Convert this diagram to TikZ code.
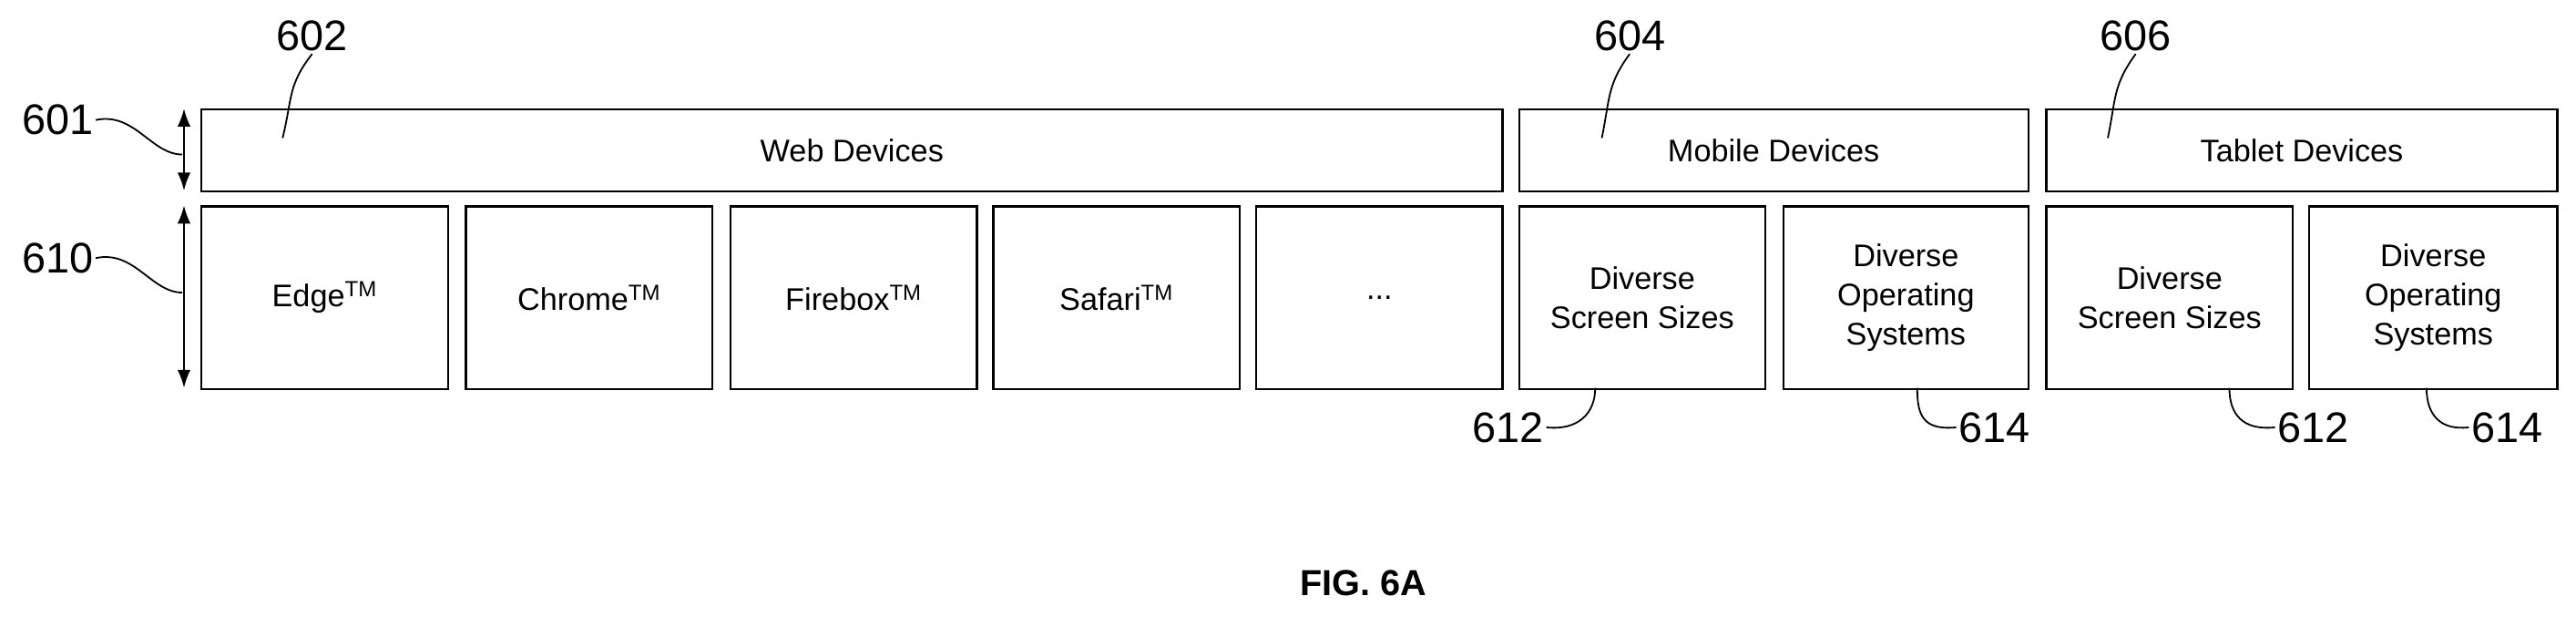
\documentclass[tikz,border=0pt]{standalone}
\usepackage{fontspec}
\setmainfont{Liberation Sans}
\usetikzlibrary{positioning,arrows.meta}

\tikzset{every picture/.style={line width=1.2pt}}
\tikzset{
  box/.style={draw, anchor=north west, align=center, inner sep=0pt,
              font=\fontsize{19}{24}\selectfont},
  ref/.style={inner sep=1pt, font=\fontsize{26}{28}\selectfont},
  lead/.style={line width=1pt},
  span/.style={<->, >={Latex[length=11pt,width=8pt]}, line width=1.2pt}
}

\begin{document}
\begin{tikzpicture}[x=1pt, y=1pt, yscale=-1, xscale=1]

    \useasboundingbox (0,0) rectangle (1568,381);

    % top row
    \node [box, minimum width=792, minimum height=50] (web) at (122,66) {Web Devices};
    \node [box, minimum width=310, minimum height=50] (mob) at (924,66) {Mobile Devices};
    \node [box, minimum width=311, minimum height=50] (tab) at (1245,66) {Tablet Devices};

    % bottom row
    \node [box, minimum width=150, minimum height=111] (edge)   at ( 122,125) {Edge\textsuperscript{TM}};
    \node [box, minimum width=150, minimum height=111] (chrome) at ( 283,125) {Chrome\textsuperscript{TM}};
    \node [box, minimum width=150, minimum height=111] (fire)   at ( 444,125) {Firebox\textsuperscript{TM}};
    \node [box, minimum width=150, minimum height=111] (safari) at ( 604,125) {Safari\textsuperscript{TM}};
    \node [box, minimum width=150, minimum height=111] (more)   at ( 764,125) {...};
    \node [box, minimum width=150, minimum height=111] (mscr)   at ( 924,125) {Diverse\\Screen Sizes};
    \node [box, minimum width=149, minimum height=111] (mos)    at (1085,125) {Diverse\\Operating\\Systems};
    \node [box, minimum width=150, minimum height=111] (tscr)   at (1245,125) {Diverse\\Screen Sizes};
    \node [box, minimum width=151, minimum height=111] (tos)    at (1405,125) {Diverse\\Operating\\Systems};

    % spans
    \coordinate (s1t) at (112,66);  \coordinate (s1b) at (112,116);
    \coordinate (s2t) at (112,125); \coordinate (s2b) at (112,236);
    \draw [span] (s1t) -- (s1b);
    \draw [span] (s2t) -- (s2b);

    % reference numerals
    \node [ref] (n601) at ( 35, 73) {601};
    \node [ref] (n610) at ( 35,157) {610};
    \node [ref] (n602) at (190, 22) {602};
    \node [ref] (n604) at (992, 22) {604};
    \node [ref] (n606) at (1300,22) {606};
    \node [ref] (n612a) at ( 918,260) {612};
    \node [ref] (n614a) at (1214,260) {614};
    \node [ref] (n612b) at (1408,260) {612};
    \node [ref] (n614b) at (1526,260) {614};

    % leaders
    \coordinate (c601) at (111,94);
    \coordinate (c610) at (111,178);
    \draw [lead] (n601.east) .. controls (82,68) and (92,94) .. (c601);
    \draw [lead] (n610.east) .. controls (82,152) and (92,178) .. (c610);
    \draw [lead] (n602.south) .. controls (175,52) and (178,60) .. (172,84);
    \draw [lead] (n604.south) .. controls (978,52) and (980,60) .. (975,84);
    \draw [lead] (n606.south) .. controls (1286,52) and (1288,60) .. (1283,84);
    \draw [lead] (n612a.east) .. controls (960,262) and (971,252) .. (971,236);
    \draw [lead] (n614a.west) .. controls (1170,262) and (1167,252) .. (1167,236);
    \draw [lead] (n612b.west) .. controls (1365,262) and (1357,252) .. (1357,236);
    \draw [lead] (n614b.west) .. controls (1485,262) and (1477,252) .. (1477,236);

    \node [font=\fontsize{22}{24}\selectfont\bfseries] (fig) at (830,355) {FIG. 6A};

\end{tikzpicture}
\end{document}
